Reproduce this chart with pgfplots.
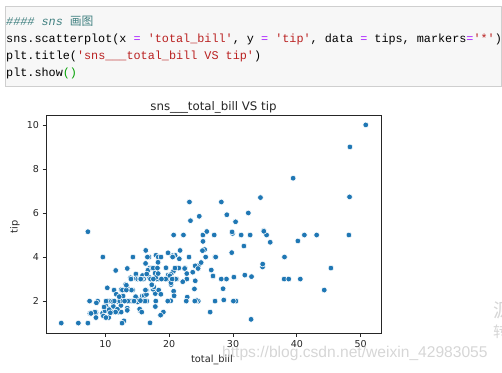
\documentclass[border=0pt]{standalone}
\usepackage{pgfplots}
\pgfplotsset{compat=1.18}
\usepackage{pgfplotstable}
\usepackage{fontspec}
\setmainfont{DejaVu Sans}
\newfontfamily\codefont{Liberation Mono}
\newfontfamily\cjk{Noto Sans CJK SC}
\newfontfamily\wmfont{Liberation Sans}
\definecolor{c1}{HTML}{1F77B4}
\definecolor{cmt}{HTML}{408080}
\definecolor{str}{HTML}{BA2121}
\definecolor{op}{HTML}{AA22FF}
\definecolor{grn}{HTML}{00A000}
\definecolor{cellbg}{HTML}{F7F7F7}
\definecolor{cellbd}{HTML}{CFCFCF}
\definecolor{wm}{HTML}{D6D6D6}
\definecolor{ax}{HTML}{262626}
\pgfplotstableread{
bill tip
16.99 1.01
10.34 1.66
21.01 3.5
23.68 3.31
24.59 3.61
25.29 4.71
8.77 2.0
26.88 3.12
15.04 1.96
14.78 3.23
10.27 1.71
35.26 5.0
15.42 1.57
18.43 3.0
14.83 3.02
21.58 3.92
10.33 1.67
16.29 3.71
16.97 3.5
20.65 3.35
17.92 4.08
20.29 2.75
15.77 2.23
39.42 7.58
19.82 3.18
17.81 2.34
13.37 2.0
12.69 2.0
21.7 4.3
19.65 3.0
9.55 1.45
18.35 2.5
15.06 3.0
20.69 2.45
17.78 3.27
24.06 3.6
16.31 2.0
16.93 3.07
18.69 2.31
31.27 5.0
16.04 2.24
17.46 2.54
13.94 3.06
9.68 1.32
30.4 5.6
18.29 3.0
22.23 5.0
32.4 6.0
28.55 2.05
18.04 3.0
12.54 2.5
10.29 2.6
34.81 5.2
9.94 1.56
25.56 4.34
19.49 3.51
38.01 3.0
26.41 1.5
11.24 1.76
48.27 6.73
20.29 3.21
13.81 2.0
11.02 1.98
18.29 3.76
17.59 2.64
20.08 3.15
16.45 2.47
3.07 1.0
20.23 2.01
15.01 2.09
12.02 1.97
17.07 3.0
26.86 3.14
25.28 5.0
14.73 2.2
10.51 1.25
17.92 3.08
27.2 4.0
22.76 3.0
17.29 2.71
19.44 3.0
16.66 3.4
10.07 1.83
32.68 5.0
15.98 2.03
34.83 5.17
13.03 2.0
18.28 4.0
24.71 5.85
21.16 3.0
28.97 3.0
22.49 3.5
5.75 1.0
16.32 4.3
22.75 3.25
40.17 4.73
27.28 4.0
12.03 1.5
21.01 3.0
12.46 1.5
11.35 2.5
15.38 3.0
44.3 2.5
22.42 3.48
20.92 4.08
15.36 1.64
20.49 4.06
25.21 4.29
18.24 3.76
14.31 4.0
14.0 3.0
7.25 1.0
38.07 4.0
23.95 2.55
25.71 4.0
17.31 3.5
29.93 5.07
10.65 1.5
12.43 1.8
24.08 2.92
11.69 2.31
13.42 1.68
14.26 2.5
15.95 2.0
12.48 2.52
29.8 4.2
8.52 1.48
14.52 2.0
11.38 2.0
22.82 2.18
19.08 1.5
20.27 2.83
11.17 1.5
12.26 2.0
18.26 3.25
8.51 1.25
10.33 2.0
14.15 2.0
16.0 2.0
13.16 2.75
17.47 3.5
34.3 6.7
41.19 5.0
27.05 5.0
16.43 2.3
8.35 1.5
18.64 1.36
11.87 1.63
9.78 1.73
7.51 2.0
14.07 2.5
13.13 2.0
17.26 2.74
24.55 2.0
19.77 2.0
29.85 5.14
48.17 5.0
25.0 3.75
13.39 2.61
16.49 2.0
21.5 3.5
12.66 2.5
16.21 2.0
13.81 2.0
17.51 3.0
24.52 3.48
20.76 2.24
31.71 4.5
10.59 1.61
10.63 2.0
50.81 10.0
15.81 3.16
7.25 5.15
31.85 3.18
16.82 4.0
32.9 3.11
17.89 2.0
14.48 2.0
9.6 4.0
34.63 3.55
34.65 3.68
23.33 5.65
45.35 3.5
23.17 6.5
40.55 3.0
20.69 5.0
20.9 3.5
30.46 2.0
18.15 3.5
23.1 4.0
15.69 1.5
19.81 4.19
28.44 2.56
15.48 2.02
16.58 4.0
7.56 1.44
10.34 2.0
43.11 5.0
13.0 2.0
13.51 2.0
18.71 4.0
12.74 2.01
13.0 2.0
16.4 2.5
20.53 4.0
16.47 3.23
26.59 3.41
38.73 3.0
24.27 2.03
12.76 2.23
30.06 2.0
25.89 5.16
48.33 9.0
13.27 2.5
28.17 6.5
12.9 1.1
28.15 3.0
11.59 1.5
7.74 1.44
30.14 3.09
12.16 2.2
13.42 3.48
8.58 1.92
15.98 3.0
13.42 1.58
16.27 2.5
10.09 2.0
20.45 3.0
13.28 2.72
22.12 2.88
24.01 2.0
15.69 3.0
11.61 3.39
10.77 1.47
15.53 3.0
10.07 1.25
12.6 1.0
32.83 1.17
35.83 4.67
29.03 5.92
27.18 2.0
22.67 2.0
17.82 1.75
18.78 3.0
}\tips
\begin{document}
\begin{tikzpicture}
\useasboundingbox (0,0) rectangle (502pt,372pt);
% code cell
\fill[cellbg] (5pt,366pt) rectangle (501pt,286pt);
\draw[cellbd, line width=0.8pt] (5pt,366pt) rectangle (501pt,286pt);
\begin{scope}[every node/.style={anchor=base west, inner sep=0pt, font=\codefont\fontsize{11.8}{14}\selectfont}]
\node at (6pt,346pt) {\color{cmt}\itshape\#\#\#\# sns {\cjk 画图}};
\node at (6pt,329.5pt) {sns.scatterplot(x {\color{op}=} {\color{str}'total\_bill'}, y {\color{op}=} {\color{str}'tip'}, data {\color{op}=} tips, markers{\color{op}=}{\color{str}'*'})};
\node at (6pt,312.5pt) {plt.title({\color{str}'sns\_\_\_total\_bill VS tip'})};
\node at (6pt,295.5pt) {plt.show{\color{grn}()}};
\end{scope}
% chart
\begin{axis}[
  at={(46pt,39pt)}, anchor=south west,
  scale only axis, width=335pt, height=218pt,
  xmin=0.68, xmax=53.2, ymin=0.55, ymax=10.45,
  xtick={10,20,30,40,50}, ytick={2,4,6,8,10},
  tick align=outside, major tick length=3.5pt,
  xtick pos=bottom, ytick pos=left,
  axis line style={ax, line width=0.8pt},
  every tick/.style={ax, line width=0.8pt},
  tick label style={font=\fontsize{9.5}{11}\selectfont, text=ax},
  /pgf/number format/assume math mode=true,
  clip=false,
]
\addplot[only marks, mark=*, mark size=2.85pt, mark options={fill=c1, draw=white, line width=0.55pt}] table[x=bill, y=tip] {\tips};
\end{axis}
\node[font=\fontsize{11.8}{14}\selectfont, text=ax] at (213.5pt,265pt) {sns\_\_\_total\_bill VS tip};
\node[font=\fontsize{9.8}{12}\selectfont, text=ax] at (212pt,12pt) {total\_bill};
\node[font=\fontsize{9.8}{12}\selectfont, text=ax, rotate=90] at (15pt,145pt) {tip};
% watermark
\node[font=\wmfont\fontsize{15.6}{18}\selectfont, text=wm, anchor=west, inner sep=0pt] at (222pt,19pt) {https://blog.csdn.net/weixin\_42983055};
\node[font=\cjk\fontsize{19}{20}\selectfont, text=wm, anchor=west, inner sep=0pt] at (493pt,62pt) {源};
\node[font=\cjk\fontsize{15}{16}\selectfont, text=wm, anchor=west, inner sep=0pt] at (493pt,40pt) {转};
\end{tikzpicture}
\end{document}
